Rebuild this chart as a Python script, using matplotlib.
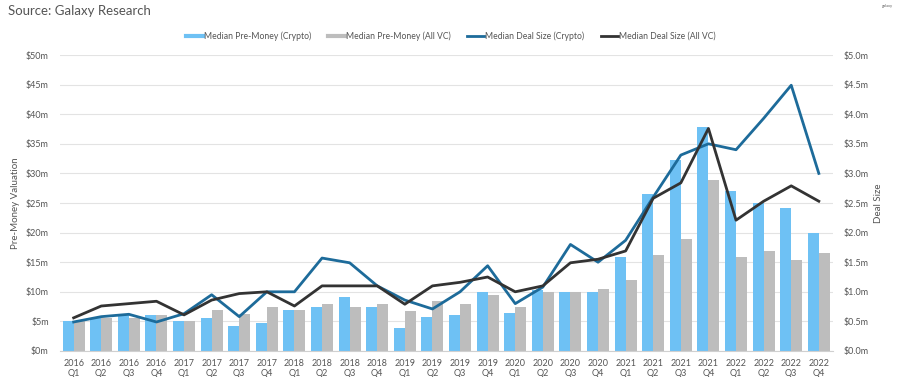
import numpy as np
import matplotlib.pyplot as plt
from matplotlib.lines import Line2D

plt.rcParams['font.family'] = ['Lato', 'DejaVu Sans']

quarters = ['2016\nQ1', '2016\nQ2', '2016\nQ3', '2016\nQ4',
            '2017\nQ1', '2017\nQ2', '2017\nQ3', '2017\nQ4',
            '2018\nQ1', '2018\nQ2', '2018\nQ3', '2018\nQ4',
            '2019\nQ1', '2019\nQ2', '2019\nQ3', '2019\nQ4',
            '2020\nQ1', '2020\nQ2', '2020\nQ3', '2020\nQ4',
            '2021\nQ1', '2021\nQ2', '2021\nQ3', '2021\nQ4',
            '2022\nQ1', '2022\nQ2', '2022\nQ3', '2022\nQ4']

# pre-money valuation, $m (left axis)
premoney_crypto = [5.1, 5.5, 6.1, 6.1, 5.1, 5.6, 4.3, 4.7, 7.0, 7.4, 9.2, 7.4,
                   3.8, 5.7, 6.0, 9.9, 6.5, 10.3, 9.9, 9.9,
                   15.8, 26.5, 32.3, 37.9, 27.1, 25.0, 24.2, 19.9]
premoney_allvc = [5.0, 5.6, 5.5, 6.0, 5.1, 6.9, 6.3, 7.5, 6.9, 7.9, 7.4, 7.9,
                  6.7, 8.4, 7.9, 9.4, 7.4, 9.9, 9.9, 10.5,
                  12.0, 16.3, 18.9, 28.9, 15.8, 16.9, 15.3, 16.6]

# deal size, $m (right axis)
deal_crypto = [0.49, 0.58, 0.62, 0.49, 0.63, 0.95, 0.58, 1.0, 1.0, 1.57, 1.49, 1.10,
               0.86, 0.71, 1.0, 1.44, 0.80, 1.08, 1.80, 1.50,
               1.87, 2.60, 3.31, 3.50, 3.40, 3.93, 4.49, 3.0]
deal_allvc = [0.56, 0.76, 0.80, 0.84, 0.61, 0.86, 0.97, 1.0, 0.76, 1.10, 1.10, 1.10,
              0.79, 1.10, 1.16, 1.25, 1.0, 1.10, 1.49, 1.55,
              1.69, 2.58, 2.84, 3.76, 2.21, 2.53, 2.79, 2.53]

c_crypto_bar = '#6ec1f4'
c_allvc_bar = '#bdbdbd'
c_crypto_line = '#1d6b9a'
c_allvc_line = '#333333'
txt = '#555555'

fig = plt.figure(figsize=(9.07, 3.77), dpi=100)
ax = fig.add_axes([0.066, 0.069, 0.852, 0.785])
ax2 = ax.twinx()

x = np.arange(len(quarters))
w = 0.4
ax.bar(x - w / 2, premoney_crypto, w, color=c_crypto_bar, zorder=2)
ax.bar(x + w / 2, premoney_allvc, w, color=c_allvc_bar, zorder=2)

ax2.plot(x, deal_crypto, color=c_crypto_line, lw=2)
ax2.plot(x, deal_allvc, color=c_allvc_line, lw=2)

ax.set_ylim(0, 50)
ax2.set_ylim(0, 5)
ax.set_xlim(-0.5, len(quarters) - 0.5)
ax.set_yticks(np.arange(0, 51, 5))
ax.set_yticklabels(['$%dm' % v for v in range(0, 51, 5)])
ax2.set_yticks(np.arange(0, 5.01, 0.5))
ax2.set_yticklabels(['$%.1fm' % v for v in np.arange(0, 5.01, 0.5)])
ax.set_xticks(x)
ax.set_xticklabels(quarters, linespacing=1.05)

ax.grid(axis='y', color='#e3e3e3', lw=0.8, zorder=0)
for a in (ax, ax2):
    for s in a.spines.values():
        s.set_visible(False)
    a.tick_params(length=0, labelsize=6.5, colors=txt)
ax.spines['bottom'].set_visible(True)
ax.spines['bottom'].set_color('#d0d0d0')
ax.tick_params(axis='x', pad=6)
ax.tick_params(axis='y', pad=8)
ax2.tick_params(axis='y', pad=8)

ax.set_ylabel('Pre-Money Valuation', fontsize=7, color=txt)
ax.yaxis.set_label_coords(-0.052, 0.5)
ax2.set_ylabel('Deal Size', fontsize=7, color=txt, labelpad=4, rotation=90)

handles = [Line2D([], [], color=c_crypto_bar, lw=3),
           Line2D([], [], color=c_allvc_bar, lw=3),
           Line2D([], [], color=c_crypto_line, lw=2),
           Line2D([], [], color=c_allvc_line, lw=2)]
labels = ['Median Pre-Money (Crypto)', 'Median Pre-Money (All VC)',
          'Median Deal Size (Crypto)', 'Median Deal Size (All VC)']
fig.legend(handles, labels, loc='center', bbox_to_anchor=(0.497, 0.905), ncol=4,
           frameon=False, fontsize=6.2, handlelength=2.0, handletextpad=0.1,
           columnspacing=1.9, labelcolor=txt)

fig.text(0.009, 0.972, 'Source: Galaxy Research', fontsize=9.5, color='#555555',
         va='center', ha='left')
fig.text(0.978, 0.985, 'galaxy', fontsize=3, color='#666666', ha='center', va='center')

fig.savefig('out.png', dpi=100)
